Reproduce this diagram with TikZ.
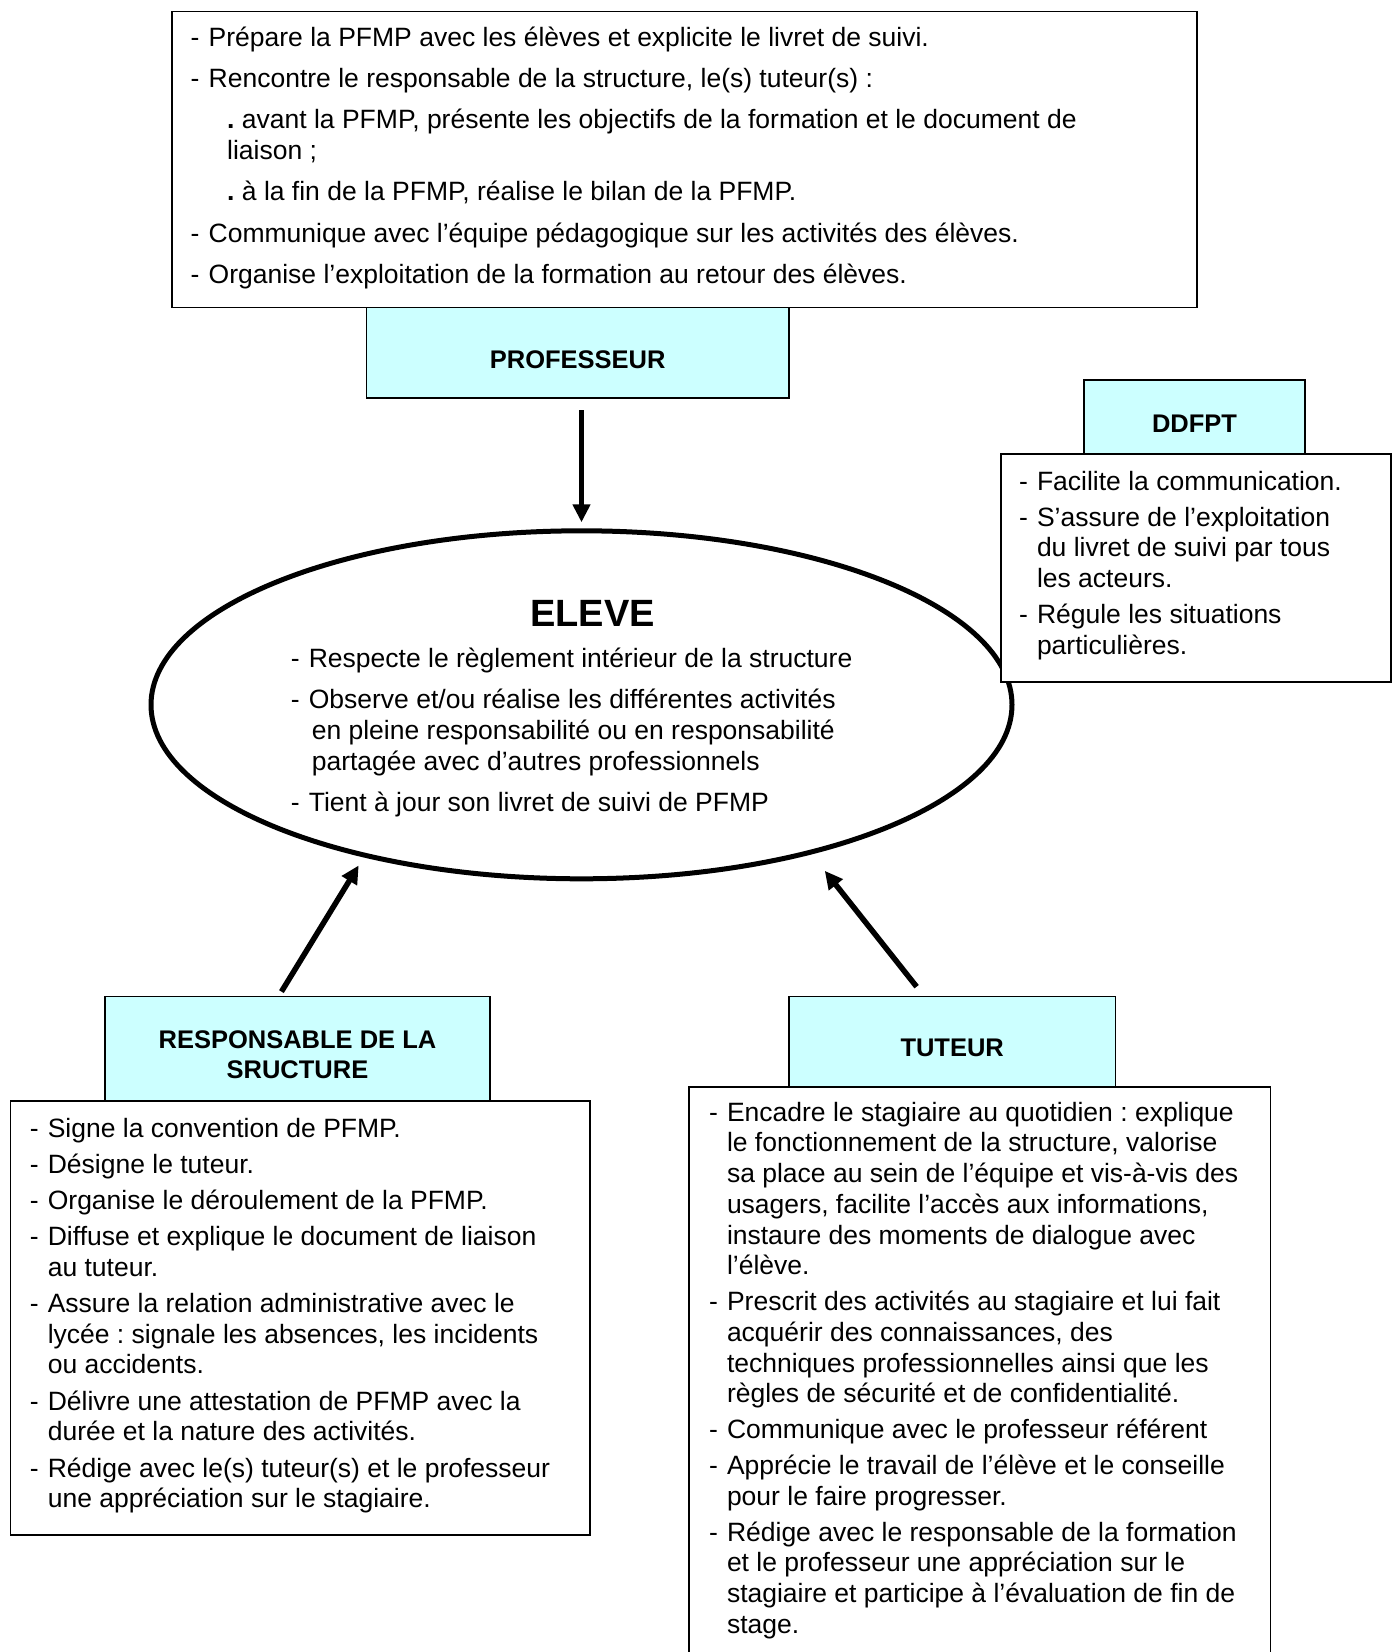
\documentclass[tikz,border=0pt]{standalone}
\usepackage{fontspec}
\setmainfont{Liberation Sans}
\usetikzlibrary{arrows.meta,shapes.geometric}
\definecolor{hdrcyan}{RGB}{204,255,255}
\frenchspacing
\newcommand{\itm}{-\hspace{9.2pt}}
\newcommand{\cnt}{\hspace*{18pt}}
\begin{document}
\begin{tikzpicture}[x=1pt, y=1pt,
    box/.style={draw, line width=1.8pt, fill=white, inner sep=0pt, anchor=north west},
    hdr/.style={box, fill=hdrcyan},
    hdrtxt/.style={font=\bfseries\fontsize{25.5}{30.5}\selectfont, align=center, inner sep=0pt},
    txt/.style={font=\fontsize{26.5}{30.7}\selectfont, align=left, inner sep=0pt, anchor=north west},
    arr/.style={line width=5.5pt, -{Triangle[length=18pt,width=17pt]}}]
\useasboundingbox (0,0) rectangle (1397,-1652);

% eleve
\node[draw, ellipse, line width=5pt, minimum width=861pt, minimum height=348pt] (eleve) at (581.5,-704.8) {};
\node[font=\bfseries\fontsize{38}{44}\selectfont, inner sep=0pt] (elevetitle) at ([xshift=11pt,yshift=91.7pt]eleve.center) {ELEVE};
\node[txt] (elevetxt) at ([xshift=-290.9pt,yshift=59.4pt]eleve.center)
  {\strut\itm Respecte le règlement intérieur de la structure\\[10.8pt]
   \itm Observe et/ou réalise les différentes activités\\
   \hspace*{21pt}en pleine responsabilité ou en responsabilité\\
   \hspace*{21pt}partagée avec d’autres professionnels\\[10.8pt]
   \itm Tient à jour son livret de suivi de PFMP};

% professeur
\node[box, minimum width=1025pt, minimum height=296.1pt] (profbox) at (171,-10.5) {};
\node[txt] (proftxt) at ([xshift=19.5pt,yshift=-14.4pt]profbox.north west)
  {\strut\itm Prépare la PFMP avec les élèves et explicite le livret de suivi.\\[10.5pt]
   \itm Rencontre le responsable de la structure, le(s) tuteur(s) :\\[10.5pt]
   \hspace*{36.5pt}{\bfseries .} avant la PFMP, présente les objectifs de la formation et le document de\\
   \hspace*{36.5pt}liaison ;\\[10.5pt]
   \hspace*{36.5pt}{\bfseries .} à la fin de la PFMP, réalise le bilan de la PFMP.\\[10.5pt]
   \itm Communique avec l’équipe pédagogique sur les activités des élèves.\\[10.5pt]
   \itm Organise l’exploitation de la formation au retour des élèves.};
\node[hdr, minimum width=422.4pt, minimum height=90.6pt] (profhdr) at (365.6,-306.6) {};
\node[hdrtxt] (proflbl) at ([yshift=-6.5pt]profhdr.center) {PROFESSEUR};

% ddfpt
\node[box, minimum width=390pt, minimum height=227.4pt] (ddfbox) at (1000,-453.3) {};
\node[txt] (ddftxt) at ([xshift=18.8pt,yshift=-15.2pt]ddfbox.north west)
  {\strut\itm Facilite la communication.\\[5.2pt]
   \itm S’assure de l’exploitation\\
   \cnt du livret de suivi par tous\\
   \cnt les acteurs.\\[5.2pt]
   \itm Régule les situations\\
   \cnt particulières.};
\node[hdr, minimum width=220.7pt, minimum height=73.4pt] (ddfhdr) at (1083.3,-379.3) {};
\node[hdrtxt] (ddflbl) at ([yshift=-6.5pt]ddfhdr.center) {DDFPT};

% responsable
\node[box, minimum width=579.5pt, minimum height=434.1pt] (respbox) at (9.5,-1099.9) {};
\node[txt] (resptxt) at ([xshift=20.1pt,yshift=-15.4pt]respbox.north west)
  {\strut\itm Signe la convention de PFMP.\\[5.5pt]
   \itm Désigne le tuteur.\\[5.5pt]
   \itm Organise le déroulement de la PFMP.\\[5.5pt]
   \itm Diffuse et explique le document de liaison\\
   \cnt au tuteur.\\[5.5pt]
   \itm Assure la relation administrative avec le\\
   \cnt lycée : signale les absences, les incidents\\
   \cnt ou accidents.\\[5.5pt]
   \itm Délivre une attestation de PFMP avec la\\
   \cnt durée et la nature des activités.\\[5.5pt]
   \itm Rédige avec le(s) tuteur(s) et le professeur\\
   \cnt une appréciation sur le stagiaire.};
\node[hdr, minimum width=384.5pt, minimum height=104.3pt] (resphdr) at (104.3,-995.6) {};
\node[hdrtxt] (resplbl) at ([yshift=-6.3pt]resphdr.center) {RESPONSABLE DE LA\\SRUCTURE};

% tuteur
\node[box, minimum width=581.5pt, minimum height=600pt] (tutbox) at (688,-1086) {};
\node[txt] (tuttxt) at ([xshift=20.8pt,yshift=-13.5pt]tutbox.north west)
  {\strut\itm Encadre le stagiaire au quotidien : explique\\
   \cnt le fonctionnement de la structure, valorise\\
   \cnt sa place au sein de l’équipe et vis-à-vis des\\
   \cnt usagers, facilite l’accès aux informations,\\
   \cnt instaure des moments de dialogue avec\\
   \cnt l’élève.\\[5.2pt]
   \itm Prescrit des activités au stagiaire et lui fait\\
   \cnt acquérir des connaissances, des\\
   \cnt techniques professionnelles ainsi que les\\
   \cnt règles de sécurité et de confidentialité.\\[5.2pt]
   \itm Communique avec le professeur référent\\[5.2pt]
   \itm Apprécie le travail de l’élève et le conseille\\
   \cnt pour le faire progresser.\\[5.2pt]
   \itm Rédige avec le responsable de la formation\\
   \cnt et le professeur une appréciation sur le\\
   \cnt stagiaire et participe à l’évaluation de fin de\\
   \cnt stage.};
\node[hdr, minimum width=326.6pt, minimum height=90.4pt] (tuthdr) at (788,-995.6) {};
\node[hdrtxt] (tutlbl) at ([yshift=-6.4pt]tuthdr.center) {TUTEUR};

% fleches
\draw[arr, shorten <=11pt, shorten >=6pt] (profhdr.south -| eleve.north) -- (eleve.north);
\draw[arr, shorten >=9.5pt] ([xshift=-16pt,yshift=4pt]resphdr.north) -- (eleve.215);
\draw[arr, shorten >=21pt] ([xshift=-35.6pt,yshift=8.9pt]tuthdr.north) -- (eleve.327);
\end{tikzpicture}
\end{document}
